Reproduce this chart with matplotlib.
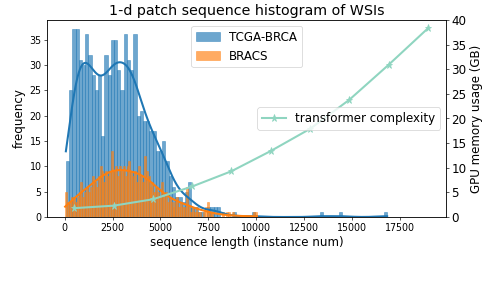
import numpy as np
import matplotlib
matplotlib.use("Agg")
import matplotlib.pyplot as plt

# histogram data (counts per bin, 100 equal bins between min and max)
TCGA_RANGE = (68, 16820)
tcga_counts = [11, 25, 37, 37, 31, 30, 36, 32, 28, 25,
               28, 16, 32, 28, 35, 35, 29, 25, 36, 31,
               29, 36, 20, 21, 19, 19, 17, 17, 13, 13,
               15, 11, 8, 6, 4, 4, 3, 5, 7, 2,
               2, 1, 1, 0, 2, 2, 2, 2, 0, 0,
               0, 0, 1, 0, 0, 0, 0, 0, 1, 0,
               0, 0, 0, 0, 0, 0, 0, 0, 0, 0,
               0, 0, 0, 0, 0, 0, 0, 0, 0, 1,
               0, 0, 0, 0, 0, 1, 0, 0, 0, 0,
               0, 0, 0, 0, 0, 0, 0, 0, 0, 1]

BRACS_RANGE = (30, 10030)
bracs_counts = [5, 3, 3, 4, 4, 3, 4, 5, 7, 4,
                5, 6, 5, 6, 8, 7, 6, 8, 10, 9,
                7, 9, 8, 9, 13, 9, 10, 8, 10, 9,
                10, 8, 10, 11, 9, 8, 9, 7, 10, 8,
                7, 12, 9, 8, 6, 7, 5, 6, 5, 4,
                7, 4, 5, 3, 4, 3, 2, 3, 4, 2,
                3, 2, 2, 6, 2, 1, 2, 1, 2, 1,
                1, 0, 1, 2, 3, 1, 1, 0, 0, 0,
                0, 0, 1, 0, 1, 1, 0, 1, 0, 0,
                0, 0, 0, 0, 0, 0, 0, 0, 1, 1]

# transformer memory usage vs sequence length
seq_len = [512, 2560, 4608, 6656, 8704, 10752, 12800, 14848, 16896, 18944]
gpu_mem = [1.8, 2.3, 3.6, 6.2, 9.3, 13.4, 17.9, 23.8, 30.9, 38.3]

BLUE = "#1f77b4"
ORANGE = "#ff7f0e"
GREEN = "#8fd5c0"

LABEL_FS = 15
TITLE_FS = 18
TICK_FS = 12


def kde_curve(edges, counts, npts=300):
    """Gaussian KDE (Scott) of the binned data, scaled to counts."""
    centers = (edges[:-1] + edges[1:]) / 2
    w = np.asarray(counts, float)
    n = w.sum()
    mean = (centers * w).sum() / n
    std = np.sqrt(((centers - mean) ** 2 * w).sum() / n)
    bw = std * n ** (-1 / 5)
    xs = np.linspace(edges[0], edges[-1], npts)
    dens = (w[None, :] * np.exp(-0.5 * ((xs[:, None] - centers[None, :]) / bw) ** 2)).sum(1)
    dens /= n * bw * np.sqrt(2 * np.pi)
    return xs, dens * n * (edges[1] - edges[0])


fig = plt.figure(figsize=(486 / 57, 284 / 57), dpi=57)
ax = fig.add_axes([47 / 486, 1 - 217 / 284, 399 / 486, 197 / 284])

for counts, rng, col, lab in [(tcga_counts, TCGA_RANGE, BLUE, "TCGA-BRCA"),
                              (bracs_counts, BRACS_RANGE, ORANGE, "BRACS")]:
    edges = np.linspace(rng[0], rng[1], len(counts) + 1)
    ax.bar(edges[:-1], counts, width=np.diff(edges), align="edge",
           color=col, alpha=0.65, edgecolor=col, linewidth=0.8, label=lab)
    xs, ys = kde_curve(edges, counts)
    ax.plot(xs, ys, color=col, lw=2.6)

ax.set_ylabel("frequency", fontsize=LABEL_FS)
ax.set_xlabel("sequence length (instance num)", fontsize=LABEL_FS)
ax.set_title("1-d patch sequence histogram of WSIs", fontsize=TITLE_FS)
ax.tick_params(labelsize=TICK_FS)
ax.legend(loc="upper center", fontsize=LABEL_FS)

ax2 = ax.twinx()
ax2.plot(seq_len, gpu_mem, color=GREEN, marker="*", lw=2.6, ms=9,
         label="transformer complexity")
ax2.set_ylim(0, 40)
ax2.set_ylabel("GPU memory usage (GB)", fontsize=LABEL_FS)
ax2.tick_params(labelsize=LABEL_FS)
ax2.legend(loc="center right", fontsize=LABEL_FS)

fig.savefig("out.png", dpi=57)
